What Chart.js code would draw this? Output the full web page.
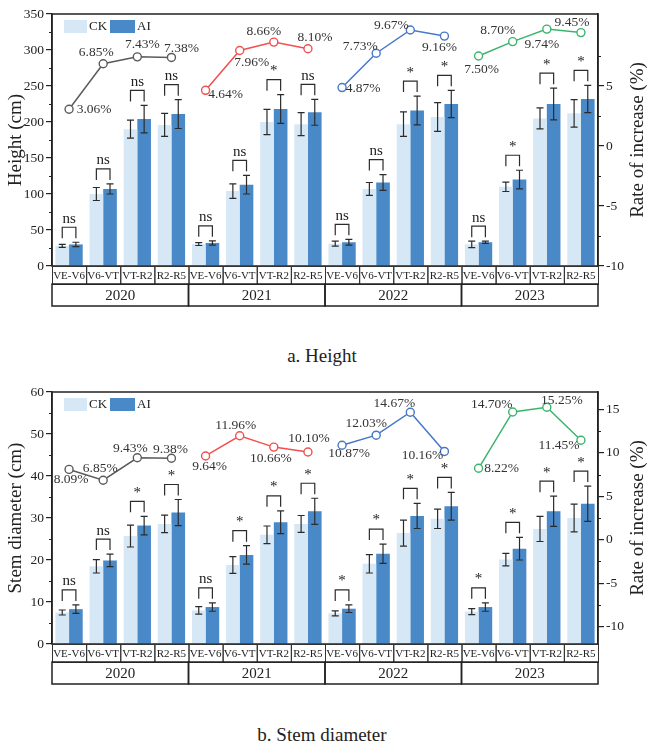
<!DOCTYPE html>
<html lang="en">

<head>
  <meta charset="UTF-8" />
  <title>Height and stem diameter</title>
  <script src="https://cdn.jsdelivr.net/npm/chart.js"></script>
  <style>
    body { margin: 0; background: #fff; width: 650px; height: 745px; position: relative; overflow: hidden; font-family: "Liberation Serif", serif; }
    .box { position: absolute; left: 0; width: 650px; height: 310px; }
    .caption { position: absolute; left: 0; width: 644px; text-align: center; font-size: 19px; color: #222; }
  </style>
</head>

<body>
  <div class="box" style="top: 0"><canvas id="chartHeight"></canvas></div>
  <div class="caption" style="top: 345px">a. Height</div>
  <div class="box" style="top: 378px"><canvas id="chartStem"></canvas></div>
  <div class="caption" style="top: 724px">b. Stem diameter</div>

<script>
  var stages = ['VE-V6', 'V6-VT', 'VT-R2', 'R2-R5'];
  var years = ['2020', '2021', '2022', '2023'];

  // a. plant height (cm), 4 stages per year
  var heightCK = [28, 100, 190, 196, 30.5, 104, 200, 197, 31, 107, 197, 207, 30, 110, 205, 212];
  var heightCKErr = [2, 9, 12.5, 16, 2, 10, 17.5, 16, 3.5, 9, 17, 20, 4.5, 6.5, 14.5, 19];
  var heightAI = [30, 107, 204, 211, 32, 113, 218, 213.5, 33, 116, 216, 225, 33, 120, 225, 232];
  var heightAIErr = [3, 7, 19, 20, 3, 13, 20, 18, 4, 11, 20, 19, 1.5, 13, 22, 19];
  var heightRate = [3.06, 6.85, 7.43, 7.38, 4.64, 7.96, 8.66, 8.10, 4.87, 7.73, 9.67, 9.16, 7.50, 8.70, 9.74, 9.45];
  var heightSig = ['ns', 'ns', 'ns', 'ns', 'ns', 'ns', '*', 'ns', 'ns', 'ns', '*', '*', 'ns', '*', '*', '*'];

  // b. stem diameter
  var stemCK = [7.5, 18.5, 25.7, 28.6, 8.0, 18.8, 26.0, 28.6, 7.3, 19.1, 26.4, 29.8, 7.7, 20.1, 27.4, 30.0];
  var stemCKErr = [0.6, 1.6, 2.6, 2.1, 0.9, 2.0, 2.1, 2.0, 0.6, 2.2, 3.1, 2.3, 0.7, 1.5, 3.0, 3.3];
  var stemAI = [8.3, 19.9, 28.2, 31.3, 8.8, 21.2, 29.0, 31.6, 8.4, 21.5, 30.5, 32.8, 8.8, 22.7, 31.6, 33.4];
  var stemAIErr = [1.0, 1.5, 2.2, 3.1, 1.0, 2.2, 2.7, 3.1, 0.9, 2.3, 3.0, 3.3, 1.0, 2.7, 3.6, 4.2];
  var stemRate = [8.09, 6.85, 9.43, 9.38, 9.64, 11.96, 10.66, 10.10, 10.87, 12.03, 14.67, 10.16, 8.22, 14.70, 15.25, 11.45];
  var stemSig = ['ns', 'ns', '*', '*', 'ns', '*', '*', '*', '*', '*', '*', '*', '*', '*', '*', '*'];

  // where each % label sits relative to its point (dx, dy in px)
  var heightLabelPos = [[25, 0], [-7, -11], [5, -12], [10, -9], [20, 4], [12, 12], [-10, -11], [7, -11],
    [21, 1], [-16, -7], [-19, -5], [-5, 11], [3, 13], [-15, -11], [-5, 15], [-9, -10]];
  var stemLabelPos = [[2, 10], [-3, -12], [-7, -9], [-1, -9], [4, 10], [-4, -10], [-3, 11], [1, -14],
    [7, 8], [-10, -12], [-16, -9], [-22, 4], [23, 0], [-21, -8], [15, -7], [-22, 5]];

  var serif = "'Liberation Serif', 'Times New Roman', serif";
  Chart.defaults.font.family = serif;
  Chart.defaults.color = '#222';

  var ckColor = '#d6e8f6';
  var aiColor = '#4a89c8';
  var lineColors = ['#5b5b5b', '#f24f4f', '#4677c9', '#3db46d'];

  var labels = [];
  years.forEach(function () { stages.forEach(function (st) { labels.push(st); }); });

  function rateDatasets(rate) {
    return years.map(function (yr, k) {
      return {
        type: 'line',
        label: yr,
        yAxisID: 'y1',
        order: 0,
        data: rate.map(function (v, i) { return Math.floor(i / 4) === k ? v : null; }),
        borderColor: lineColors[k],
        borderWidth: 1.5,
        pointRadius: 4,
        pointBackgroundColor: '#fff',
        pointBorderColor: lineColors[k],
        pointBorderWidth: 1.4,
        spanGaps: false
      };
    });
  }

  // error bars, brackets, frame, legend, category boxes, % labels
  var extrasPlugin = {
    id: 'extras',
    afterDatasetsDraw: function (chart, args, o) {
      var ctx = chart.ctx, y = chart.scales.y;
      var ck = chart.getDatasetMeta(0).data, ai = chart.getDatasetMeta(1).data;
      ctx.save();
      ctx.strokeStyle = '#2b2b2b';
      ctx.lineWidth = 1.2;
      function errBar(x, v, e) {
        var lo = y.getPixelForValue(v - e), hi = y.getPixelForValue(v + e);
        ctx.beginPath();
        ctx.moveTo(x, lo); ctx.lineTo(x, hi);
        ctx.moveTo(x - 3.5, lo); ctx.lineTo(x + 3.5, lo);
        ctx.moveTo(x - 3.5, hi); ctx.lineTo(x + 3.5, hi);
        ctx.stroke();
      }
      for (var i = 0; i < o.ck.length; i++) {
        errBar(ck[i].x, o.ck[i], o.ckErr[i]);
        errBar(ai[i].x, o.ai[i], o.aiErr[i]);

        var xl = ck[i].x, xr = ai[i].x;
        var top = Math.min(y.getPixelForValue(o.ck[i] + o.ckErr[i]), y.getPixelForValue(o.ai[i] + o.aiErr[i]));
        var legBottom = top - 4, barTop = legBottom - 11;
        ctx.beginPath();
        ctx.moveTo(xl, legBottom); ctx.lineTo(xl, barTop); ctx.lineTo(xr, barTop); ctx.lineTo(xr, legBottom);
        ctx.stroke();
        ctx.fillStyle = '#222';
        ctx.font = '15px ' + serif;
        ctx.textAlign = 'center';
        ctx.textBaseline = 'bottom';
        ctx.fillText(o.sig[i], (xl + xr) / 2, barTop - 1);
      }
      ctx.restore();
    },
    afterDraw: function (chart, args, o) {
      var ctx = chart.ctx, area = chart.chartArea, y = chart.scales.y, y1 = chart.scales.y1;
      ctx.save();
      ctx.strokeStyle = '#222';
      ctx.lineWidth = 1.5;
      ctx.strokeRect(area.left, area.top, area.right - area.left, area.bottom - area.top);

      // minor ticks
      ctx.lineWidth = 1.2;
      ctx.beginPath();
      for (var v = o.yStep / 2; v < y.max; v += o.yStep) {
        var p = Math.round(y.getPixelForValue(v)) + 0.5;
        ctx.moveTo(area.left - 3, p); ctx.lineTo(area.left, p);
      }
      for (var w = -7.5; w < y1.max; w += 5) {
        var q = Math.round(y1.getPixelForValue(w)) + 0.5;
        ctx.moveTo(area.right, q); ctx.lineTo(area.right + 3, q);
      }
      ctx.stroke();

      // right axis title, read bottom to top like the left one
      ctx.fillStyle = '#222';
      ctx.font = '19px ' + serif;
      ctx.textAlign = 'center';
      ctx.textBaseline = 'middle';
      ctx.save();
      ctx.translate(area.right + 40, (area.top + area.bottom) / 2);
      ctx.rotate(-Math.PI / 2);
      ctx.fillText('Rate of increase (%)', 0, 0);
      ctx.restore();

      // legend
      ctx.fillStyle = ckColor;
      ctx.fillRect(area.left + 12, area.top + 6, 23, 13);
      ctx.fillStyle = aiColor;
      ctx.fillRect(area.left + 58, area.top + 6, 25, 13);
      ctx.fillStyle = '#222';
      ctx.font = '13px ' + serif;
      ctx.textAlign = 'left';
      ctx.fillText('CK', area.left + 37, area.top + 13);
      ctx.fillText('AI', area.left + 85, area.top + 13);

      // stage and year boxes under the axis
      var cw = (area.right - area.left) / labels.length;
      var r1 = area.bottom, r2 = area.bottom + 18, r3 = area.bottom + 40;
      ctx.lineWidth = 1;
      ctx.strokeStyle = '#333';
      ctx.textAlign = 'center';
      ctx.font = '11px ' + serif;
      for (var i = 0; i < labels.length; i++) {
        ctx.strokeRect(area.left + i * cw + 0.5, r1 + 0.5, cw, 18);
        ctx.fillText(labels[i], area.left + (i + 0.5) * cw, r1 + 10);
      }
      ctx.lineWidth = 1.5;
      ctx.strokeStyle = '#222';
      ctx.font = '15px ' + serif;
      for (var k = 0; k < years.length; k++) {
        ctx.strokeRect(area.left + k * 4 * cw, r2, 4 * cw, r3 - r2);
        ctx.fillText(years[k], area.left + (k * 4 + 2) * cw, (r2 + r3) / 2 + 1);
      }

      // percentage labels on the rate lines
      ctx.font = '13.5px ' + serif;
      ctx.fillStyle = '#333';
      for (var j = 0; j < o.rate.length; j++) {
        var pt = chart.getDatasetMeta(2 + Math.floor(j / 4)).data[j];
        ctx.fillText(o.rate[j].toFixed(2) + '%', pt.x + o.labelPos[j][0], pt.y + o.labelPos[j][1]);
      }
      ctx.restore();
    }
  };

  function buildChart(canvasId, s) {
    var ctx = document.getElementById(canvasId).getContext('2d');
    var tickFont = { family: serif, size: 13.5 };
    var config = {
      type: 'bar',
      data: {
        labels: labels,
        datasets: [
          { label: 'CK', data: s.ck, backgroundColor: ckColor, order: 1 },
          { label: 'AI', data: s.ai, backgroundColor: aiColor, order: 1 }
        ].concat(rateDatasets(s.rate))
      },
      options: {
        responsive: true,
        maintainAspectRatio: false,
        animation: false,
        layout: { padding: { top: 14, left: 0, right: 0, bottom: 0 } },
        datasets: { bar: { categoryPercentage: 0.8, barPercentage: 1.0 } },
        plugins: {
          legend: { display: false },
          tooltip: { enabled: false },
          extras: {
            ck: s.ck, ckErr: s.ckErr, ai: s.ai, aiErr: s.aiErr, sig: s.sig,
            rate: s.rate, labelPos: s.labelPos, yStep: s.yStep
          }
        },
        scales: {
          x: {
            grid: { display: false },
            ticks: { display: false },
            border: { display: false },
            afterFit: function (sc) { sc.height = 44; }
          },
          y: {
            min: 0,
            max: s.yMax,
            ticks: { stepSize: s.yStep, font: tickFont, color: '#222', padding: 2 },
            grid: { drawOnChartArea: false, tickLength: 6, color: '#222', lineWidth: 1.2 },
            border: { color: '#222', width: 1.5 },
            title: { display: true, text: s.yTitle, font: { family: serif, size: 19 }, color: '#222', padding: { top: 5, bottom: 0 } },
            afterFit: function (sc) { sc.width = 52; }
          },
          y1: {
            position: 'right',
            min: s.y1Min,
            max: s.y1Max,
            ticks: { stepSize: 5, font: tickFont, color: '#222', padding: 2 },
            afterBuildTicks: function (sc) { sc.ticks = sc.ticks.filter(function (t) { return t.value % 5 === 0; }); },
            grid: { drawOnChartArea: false, tickLength: 6, color: '#222', lineWidth: 1.2 },
            border: { color: '#222', width: 1.5 },
            afterFit: function (sc) { sc.width = 52; }
          }
        }
      },
      plugins: [extrasPlugin]
    };
    return new Chart(ctx, config);
  }

  var chartHeight = buildChart('chartHeight', {
    ck: heightCK, ckErr: heightCKErr, ai: heightAI, aiErr: heightAIErr,
    rate: heightRate, sig: heightSig, labelPos: heightLabelPos,
    yMax: 350, yStep: 50, yTitle: 'Height (cm)', y1Min: -10, y1Max: 11
  });

  var chartStem = buildChart('chartStem', {
    ck: stemCK, ckErr: stemCKErr, ai: stemAI, aiErr: stemAIErr,
    rate: stemRate, sig: stemSig, labelPos: stemLabelPos,
    yMax: 60, yStep: 10, yTitle: 'Stem diameter (cm)', y1Min: -12, y1Max: 17
  });
</script>
</body>

</html>
